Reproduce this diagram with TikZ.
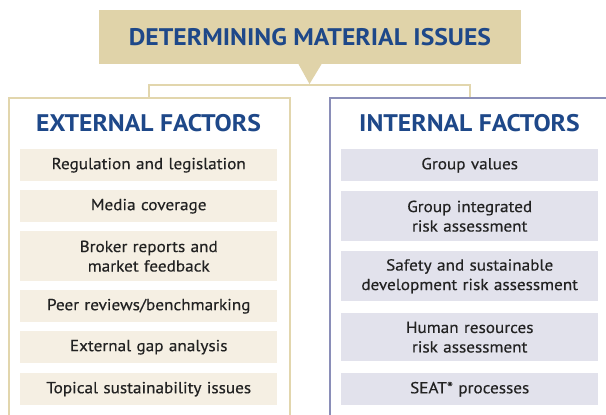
\documentclass[tikz,border=0pt]{standalone}
\usepackage{fontspec}
\setmainfont{PT Sans}
\newfontfamily\headfont[FakeStretch=1.07]{PT Sans}
\newfontfamily\itemfont[FakeStretch=1.075, FakeBold=0.4]{PT Sans}
\definecolor{tanfill}{HTML}{E0D3A9}
\definecolor{tanline}{HTML}{E2D6AD}
\definecolor{extfill}{HTML}{F5EFE3}
\definecolor{intfill}{HTML}{E2E2EC}
\definecolor{intline}{HTML}{8A8EB8}
\definecolor{navy}{HTML}{1E4889}
\definecolor{itemtext}{HTML}{222222}
\begin{document}
\begin{tikzpicture}[x=1pt,y=-1pt,
  titlebox/.style={fill=tanfill, minimum width=422pt, minimum height=54pt, inner sep=0pt,
    font=\headfont\fontsize{24}{27}\selectfont\bfseries, text=navy},
  panel/.style={draw, line width=2.2pt, fill=white, anchor=north west, inner sep=0pt},
  head/.style={font=\headfont\fontsize{24}{27}\selectfont\bfseries, text=navy, inner sep=0pt},
  item/.style={anchor=north west, minimum width=257pt, text width=257pt, align=center, inner sep=0pt,
    font=\itemfont\fontsize{16}{19.5}\selectfont, text=itemtext},
  extitem/.style={item, fill=extfill},
  intitem/.style={item, fill=intfill},
  bracket/.style={draw=tanline, line width=2pt}
]
\clip (0,0) rectangle (606,415);
\fill[white] (0,0) rectangle (606,415);
% panels
\node[panel, draw=tanline, minimum width=281pt, minimum height=340pt] (ext) at (8,97) {};
\node[panel, draw=intline, minimum width=300pt, minimum height=340pt] (int) at (329,97) {};
% connector bracket
\coordinate (tip) at (309.5,85);
\coordinate (bl) at (149,97);
\coordinate (br) at (470,97);
\draw[bracket] (bl) |- (tip) -| (br);
% title
\node[titlebox] (title) at (310,37) {DETERMINING MATERIAL ISSUES};
\fill[tanfill] ([xshift=-11.5pt]title.south) -- ([xshift=11.5pt]title.south) -- (309.5,84) -- cycle;
% headers
\node[head] (exthead) at (148.5,123) {EXTERNAL FACTORS};
\node[head] (inthead) at (469.5,123) {INTERNAL FACTORS};
% external items
\node[extitem, minimum height=32pt] (e1) at (20,149) {Regulation and legislation};
\node[extitem, minimum height=32pt] (e2) at (20,190) {Media coverage};
\node[extitem, minimum height=50pt] (e3) at (20,231) {Broker reports and\\market feedback};
\node[extitem, minimum height=32pt] (e4) at (20,290) {Peer reviews/benchmarking};
\node[extitem, minimum height=32pt] (e5) at (20,331) {External gap analysis};
\node[extitem, minimum height=32pt] (e6) at (20,373) {Topical sustainability issues};
% internal items
\node[intitem, minimum height=32pt] (i1) at (341,149) {Group values};
\node[intitem, minimum height=50pt] (i2) at (341,191) {Group integrated\\risk assessment};
\node[intitem, minimum height=50pt] (i3) at (341,251) {Safety and sustainable\\development risk assessment};
\node[intitem, minimum height=48pt] (i4) at (341,313) {Human resources\\risk assessment};
\node[intitem, minimum height=32pt] (i5) at (341,373) {SEAT* processes};
\end{tikzpicture}
\end{document}
